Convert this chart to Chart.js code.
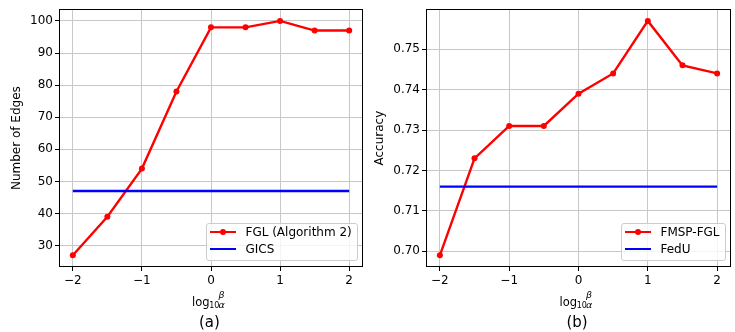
<!DOCTYPE html>
<html>
<head>
<meta charset="utf-8">
<script src="https://cdn.jsdelivr.net/npm/chart.js@4.4.1/dist/chart.umd.min.js"></script>
<style>
  html, body { margin:0; padding:0; background:#fff; }
  #wrap { position:relative; width:735px; height:332px; overflow:hidden; background:#fff; font-family:'DejaVu Sans', sans-serif; color:#000; }
  canvas { position:absolute; top:0; }
  .piece { position:absolute; white-space:nowrap; line-height:1; }
  .legend { position:absolute; box-sizing:border-box; border:1px solid #cccccc; border-radius:3px; background:rgba(255,255,255,0.8); padding:0 5px 2px 0; }
  .row { display:flex; align-items:center; height:17px; }
  .sample { position:relative; width:26.6px; height:2.4px; margin-left:3.4px; }
  .dot { position:absolute; left:50%; top:50%; width:6px; height:6px; margin:-3px 0 0 -3px; border-radius:50%; }
  .ltext { margin-left:9px; font-size:12px; line-height:12px; white-space:nowrap; }
</style>
</head>
<body>
<div id="wrap">
  <canvas id="c1" width="367" height="295" style="left:0px"></canvas>
  <canvas id="c2" width="368" height="295" style="left:367px"></canvas>
</div>
<script>
// ---------------- data ----------------
const xValues = [-2, -1.5, -1, -0.5, 0, 0.5, 1, 1.5, 2];
const xTicks = [-2, -1, 0, 1, 2];

const edgesFGL = [27, 39, 54, 78, 98, 98, 100, 97, 97];
const edgesGICS = [47, 47];
const edgesTicks = [30, 40, 50, 60, 70, 80, 90, 100];

const accFMSP = [0.699, 0.723, 0.731, 0.731, 0.739, 0.744, 0.757, 0.746, 0.744];
const accFedU = [0.716, 0.716];
const accTicks = [0.70, 0.71, 0.72, 0.73, 0.74, 0.75];

const baselineX = [-2, 2];

const panelA = { canvas:'c1', left:0, padRight:2, yTitle:'Number of Edges', titlePad:9.5,
  seriesLabel:'FGL (Algorithm 2)', series:edgesFGL, refLabel:'GICS', ref:edgesGICS,
  yTicks:edgesTicks, decimals:0, caption:'(a)' };
const panelB = { canvas:'c2', left:367, padRight:4, yTitle:'Accuracy', titlePad:6,
  seriesLabel:'FMSP-FGL', series:accFMSP, refLabel:'FedU', ref:accFedU,
  yTicks:accTicks, decimals:2, caption:'(b)' };

Chart.defaults.font.family = "'DejaVu Sans', sans-serif";
Chart.defaults.font.size = 12;
Chart.defaults.color = '#000';

const frame = {
  id:'frame',
  afterDatasetsDraw(chart) {
    const a = chart.chartArea, ctx = chart.ctx;
    ctx.save();
    ctx.strokeStyle = '#000';
    ctx.lineWidth = 1;
    ctx.strokeRect(Math.round(a.left) + 0.5, Math.round(a.top) + 0.5,
                   Math.round(a.right) - Math.round(a.left) - 1, Math.round(a.bottom) - Math.round(a.top) - 1);
    ctx.restore();
  }
};

function range(vals) {
  const mn = Math.min(...vals), mx = Math.max(...vals), m = (mx - mn) * 0.05;
  return [mn - m, mx + m];
}

function fmtX(v) { return v < 0 ? '\u2212' + Math.abs(v) : String(v); }

function build(p) {
  const [ymin, ymax] = range(p.series.concat(p.ref));
  const [xmin, xmax] = range(xValues);
  const chart = new Chart(document.getElementById(p.canvas), {
    type:'line',
    data:{
      datasets:[
        { label:p.seriesLabel, data:xValues.map((x,i)=>({x, y:p.series[i]})),
          borderColor:'#ff0000', backgroundColor:'#ff0000', borderWidth:2.4,
          pointRadius:3, pointBorderWidth:0, pointBackgroundColor:'#ff0000', tension:0, order:1 },
        { label:p.refLabel, data:baselineX.map((x,i)=>({x, y:p.ref[i]})),
          borderColor:'#0000ff', backgroundColor:'#0000ff', borderWidth:2.4,
          pointRadius:0, tension:0, order:0 }
      ]
    },
    options:{
      responsive:false, animation:false,
      layout:{ padding:{ left:0, top:6, right:p.padRight, bottom:0 } },
      plugins:{ legend:{display:false}, tooltip:{enabled:false} },
      scales:{
        x:{ type:'linear', min:xmin, max:xmax,
            afterBuildTicks(s){ s.ticks = xTicks.map(v=>({value:v})); },
            afterFit(s){ s.height = 28; },
            ticks:{ color:'#000', padding:3, maxRotation:0, autoSkip:false, callback:v=>fmtX(v) },
            grid:{ color:'#c8c8c8', lineWidth:1, drawTicks:true, tickLength:4, tickColor:'#000', tickWidth:1 },
            border:{ display:false } },
        y:{ type:'linear', min:ymin, max:ymax,
            afterBuildTicks(s){ s.ticks = p.yTicks.map(v=>({value:v})); },
            afterFit(s){ s.width = 59; },
            ticks:{ color:'#000', padding:2, autoSkip:false, callback:v=>v.toFixed(p.decimals) },
            grid:{ color:'#c8c8c8', lineWidth:1, drawTicks:true, tickLength:4, tickColor:'#000', tickWidth:1 },
            border:{ display:false },
            title:{ display:true, text:p.yTitle, color:'#000', font:{size:12}, padding:{top:p.titlePad, bottom:0} } }
      }
    },
    plugins:[frame]
  });
  const a = chart.chartArea;
  const wrap = document.getElementById('wrap');
  const L = p.left + a.left, R = p.left + a.right, cx = (L + R) / 2;

  // legend (built from datasets)
  const lg = document.createElement('div');
  lg.className = 'legend';
  chart.data.datasets.forEach(ds => {
    const row = document.createElement('div'); row.className = 'row';
    const s = document.createElement('div'); s.className = 'sample'; s.style.background = ds.borderColor;
    if (ds.pointRadius > 0) { const d = document.createElement('div'); d.className = 'dot'; d.style.background = ds.borderColor; s.appendChild(d); }
    const t = document.createElement('span'); t.className = 'ltext'; t.textContent = ds.label;
    row.appendChild(s); row.appendChild(t); lg.appendChild(row);
  });
  wrap.appendChild(lg);
  lg.style.left = (R - 5.5 - lg.offsetWidth) + 'px';
  lg.style.top = (a.bottom - 6.5 - lg.offsetHeight) + 'px';

  // x-axis title: log_10 (beta/alpha)
  const x0 = cx - 19;
  const mk = (txt, size, left, top, italic) => {
    const e = document.createElement('span'); e.className = 'piece'; e.textContent = txt;
    e.style.fontSize = size + 'px'; e.style.left = left + 'px'; e.style.top = top + 'px';
    if (italic) e.style.fontStyle = 'italic';
    wrap.appendChild(e); return e;
  };
  mk('log', 11.5, x0, 296.8);
  mk('10', 8, x0 + 17.2, 302.2);
  mk('\u03B2', 9.5, x0 + 26.6, 290.0, true);
  mk('\u03B1', 9.5, x0 + 26.4, 299.8, true);
  const cap = mk(p.caption, 15, 0, 314.7);
  cap.style.left = (cx - 1.5 - cap.offsetWidth / 2) + 'px';
}

build(panelA);
build(panelB);
</script>
</body>
</html>
